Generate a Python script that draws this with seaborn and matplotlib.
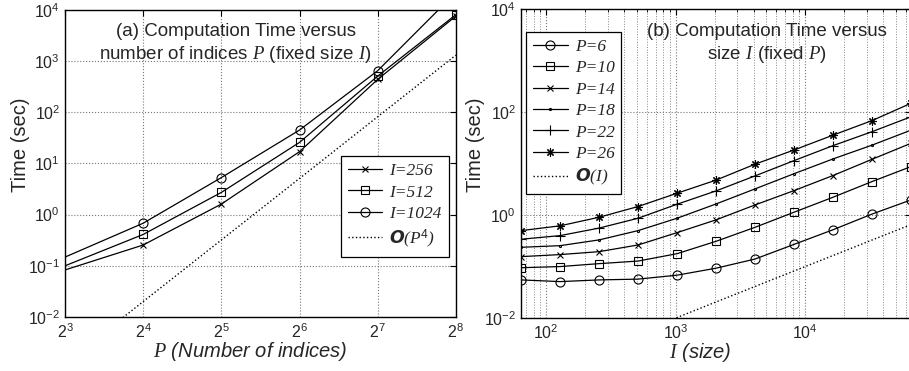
import numpy as np
import pandas as pd
import matplotlib
matplotlib.use("Agg")
import matplotlib.pyplot as plt
import matplotlib.ticker as mticker
from matplotlib.lines import Line2D
import seaborn as sns

# ---- panel (a): time vs number of indices P ----
P_vals = [8, 16, 32, 64, 128, 256]
t_I256 = [0.083, 0.255, 1.61, 17, 440, 7600]
t_I512 = [0.10, 0.41, 2.72, 25.8, 510, 8100]
t_I1024 = [0.148, 0.68, 5.3, 45, 650, 22000]
ref_P4 = [0.00125, 0.02, 0.32, 5.1, 82, 1310]

# ---- panel (b): time vs size I ----
I_vals = [64, 128, 256, 512, 1024, 2048, 4096, 8192, 16384, 32768, 65536]
t_P6 = [0.055, 0.051, 0.055, 0.057, 0.068, 0.093, 0.14, 0.27, 0.52, 1.05, 1.98]
t_P10 = [0.095, 0.10, 0.114, 0.128, 0.178, 0.31, 0.58, 1.14, 2.23, 4.5, 8.8]
t_P14 = [0.156, 0.171, 0.195, 0.263, 0.457, 0.81, 1.58, 3.0, 5.9, 12.2, 25]
t_P18 = [0.237, 0.255, 0.33, 0.50, 0.87, 1.65, 3.24, 6.4, 12.4, 23, 45]
t_P22 = [0.34, 0.40, 0.56, 0.87, 1.63, 2.96, 5.8, 11.5, 22.5, 42, 82]
t_P26 = [0.50, 0.62, 0.91, 1.47, 2.67, 4.8, 9.8, 18.5, 36, 69, 150]
ref_I = [0.00064, 0.00128, 0.00256, 0.00512, 0.0102, 0.0205, 0.041, 0.082, 0.164, 0.328, 0.655]

sns.set_style("white")
plt.rcParams['font.family'] = ['Liberation Sans', 'DejaVu Sans']
plt.rcParams['mathtext.fontset'] = 'custom'
plt.rcParams['mathtext.it'] = 'Liberation Serif:italic'
plt.rcParams['mathtext.rm'] = 'Liberation Sans'
plt.rcParams['mathtext.cal'] = 'DejaVu Sans:italic:bold'
plt.rcParams['axes.unicode_minus'] = False
plt.rcParams['xtick.direction'] = 'in'
plt.rcParams['ytick.direction'] = 'in'

serif_it = dict(family='Liberation Serif', style='italic', size=12.5)

fig = plt.figure(figsize=(9.09, 3.71), dpi=100)
ax1 = fig.add_axes([0.0715, 0.1456, 0.430, 0.8275])
ax2 = fig.add_axes([0.5732, 0.1429, 0.429, 0.8315])

lw = 0.9
mk = dict(color='k', linewidth=lw, markerfacecolor='none', markeredgecolor='k',
          markeredgewidth=0.8)

# panel (a)
df_a = pd.DataFrame({'P': P_vals, 'I=256': t_I256, 'I=512': t_I512,
                     'I=1024': t_I1024, 'ref': ref_P4})
h_a = []
for col, m, ms, lab in [('I=256', 'x', 5, 'I=256'), ('I=512', 's', 5.5, 'I=512'),
                        ('I=1024', 'o', 6.5, 'I=1024')]:
    sns.lineplot(data=df_a, x='P', y=col, ax=ax1, marker=m, markersize=ms,
                 markevery=slice(1, None), legend=False, **mk)
    h_a.append((Line2D([], [], marker=m, markersize=ms, **mk), lab))
sns.lineplot(data=df_a, x='P', y='ref', ax=ax1, color='k', linestyle=':',
             linewidth=1.0, legend=False)
h_a.append((Line2D([], [], color='k', linestyle=':', linewidth=1.0),
            r'$\mathcal{O}$(P$^{4}$)'))

ax1.set_xscale('log', base=2)
ax1.set_yscale('log')
ax1.set_xlim(8, 256)
ax1.set_ylim(1e-2, 1e4)
ax1.xaxis.set_major_locator(mticker.FixedLocator(P_vals))
ax1.xaxis.set_minor_locator(mticker.NullLocator())
ax1.yaxis.set_major_locator(mticker.LogLocator(base=10, numticks=10))
ax1.yaxis.set_minor_locator(mticker.NullLocator())
ax1.grid(True, which='major', color='#777777', linestyle=':', linewidth=0.8)

ax1.text(0.437, 0.889,
         "(a) Computation Time versus\nnumber of indices $P$ (fixed size $I$)",
         transform=ax1.transAxes, ha='center', va='center', fontsize=13.5,
         linespacing=1.25)
leg1 = ax1.legend([h for h, _ in h_a], [l for _, l in h_a], loc='upper right',
                  bbox_to_anchor=(0.982, 0.524), borderaxespad=0, prop=serif_it,
                  handlelength=2.0, labelspacing=0.3, fancybox=False,
                  edgecolor='k', framealpha=1, borderpad=0.4, handletextpad=0.4)
leg1.get_frame().set_linewidth(0.9)

ax1.set_xlabel("$P$ (Number of indices)", fontsize=14.5, style='italic')
ax1.set_ylabel("Time (sec)", fontsize=14.5)
ax1.xaxis.set_label_coords(0.473, -0.075)
ax1.yaxis.set_label_coords(-0.09, 0.56)

# panel (b)
df_b = pd.DataFrame({'I': I_vals, 'P=6': t_P6, 'P=10': t_P10, 'P=14': t_P14,
                     'P=18': t_P18, 'P=22': t_P22, 'P=26': t_P26, 'ref': ref_I})
h_b = []
for col, m, ms in [('P=6', 'o', 6.5), ('P=10', 's', 5.5), ('P=14', 'x', 5),
                   ('P=18', '.', 3), ('P=22', '+', 7), ('P=26', (8, 2, 0), 6)]:
    sns.lineplot(data=df_b, x='I', y=col, ax=ax2, marker=m, markersize=ms,
                 legend=False, **mk)
    h_b.append((Line2D([], [], marker=m, markersize=ms, **mk), col))
sns.lineplot(data=df_b, x='I', y='ref', ax=ax2, color='k', linestyle=':',
             linewidth=1.0, legend=False)
h_b.append((Line2D([], [], color='k', linestyle=':', linewidth=1.0),
            r'$\mathcal{O}$(I)'))

ax2.set_xscale('log')
ax2.set_yscale('log')
ax2.set_xlim(64, 65536)
ax2.set_ylim(1e-2, 1e4)
ax2.xaxis.set_major_locator(mticker.LogLocator(base=10, numticks=10))
ax2.xaxis.set_minor_locator(mticker.LogLocator(base=10, subs=np.arange(2, 10), numticks=20))
ax2.xaxis.set_minor_formatter(mticker.NullFormatter())
ax2.yaxis.set_major_locator(mticker.FixedLocator([1e-2, 1, 1e2, 1e4]))
ax2.yaxis.set_minor_locator(mticker.NullLocator())
ax2.grid(True, which='major', color='#777777', linestyle=':', linewidth=0.8)
ax2.grid(True, which='minor', axis='x', color='#888888', linestyle=':', linewidth=0.7)

ax2.text(0.631, 0.888, "(b) Computation Time versus\nsize $I$ (fixed $P$)",
         transform=ax2.transAxes, ha='center', va='center', fontsize=13.5,
         linespacing=1.25)
leg2 = ax2.legend([h for h, _ in h_b], [l for _, l in h_b], loc='upper left',
                  bbox_to_anchor=(0.0128, 0.927), borderaxespad=0, prop=serif_it,
                  handlelength=2.0, labelspacing=0.3, fancybox=False,
                  edgecolor='k', framealpha=1, borderpad=0.4, handletextpad=0.4)
leg2.get_frame().set_linewidth(0.9)

ax2.set_xlabel("$I$ (size)", fontsize=14.5, style='italic')
ax2.set_ylabel("Time (sec)", fontsize=14.5)
ax2.xaxis.set_label_coords(0.459, -0.075)
ax2.yaxis.set_label_coords(-0.092, 0.56)

for ax in (ax1, ax2):
    ax.tick_params(which='both', top=True, right=True, labelsize=11.5, color='k')
    ax.tick_params(which='major', length=4)
    ax.tick_params(which='minor', length=2.5)
    for s in ax.spines.values():
        s.set_color('k')
        s.set_linewidth(1.0)
        s.set_visible(True)

fig.savefig('out.png', dpi=100)
